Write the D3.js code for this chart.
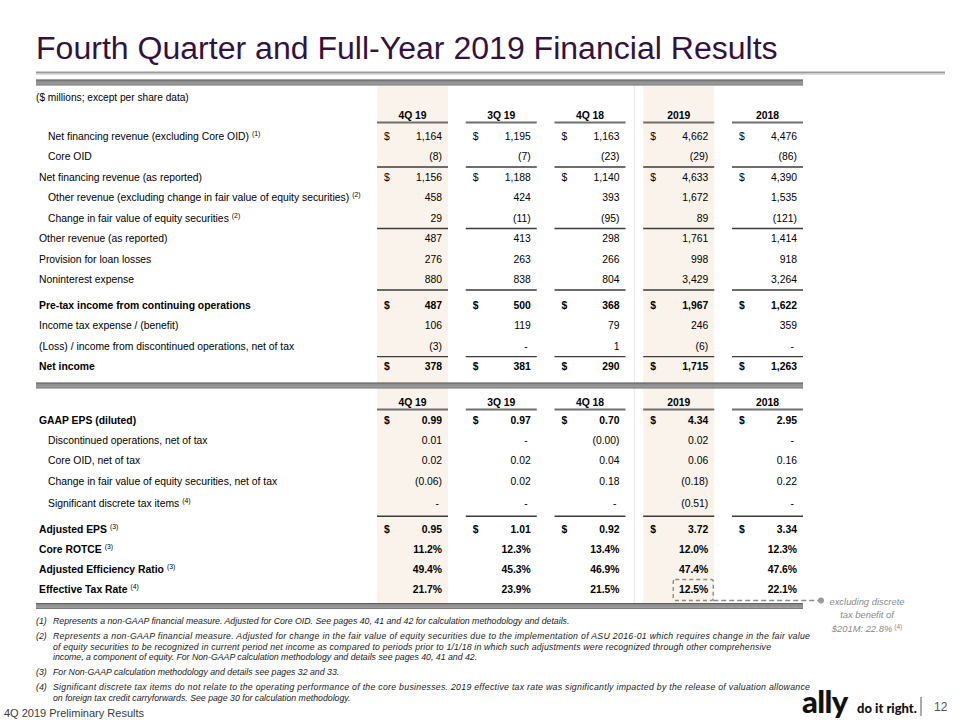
<!DOCTYPE html>
<html><head><meta charset="utf-8">
<script src="https://cdn.jsdelivr.net/npm/d3@7"></script>
<style>
html,body{margin:0;padding:0;background:#fff;}
svg{display:block;}
</style></head><body>
<svg id="chart" width="960" height="720"></svg>
<script>
// ---------------- DATA ----------------
const columns = ["4Q 19", "3Q 19", "4Q 18", "2019", "2018"];
const shadedColumns = ["4Q 19", "2019"];

const incomeLabels = [
  "Net financing revenue (excluding Core OID)",
  "Core OID",
  "Net financing revenue (as reported)",
  "Other revenue (excluding change in fair value of equity securities)",
  "Change in fair value of equity securities",
  "Other revenue (as reported)",
  "Provision for loan losses",
  "Noninterest expense",
  "Pre-tax income from continuing operations",
  "Income tax expense / (benefit)",
  "(Loss) / income from discontinued operations, net of tax",
  "Net income"
];
const incomeNotes = ["(1)", "", "", "(2)", "(2)", "", "", "", "", "", "", ""];
const income4Q19 = [1164, -8, 1156, 458, 29, 487, 276, 880, 487, 106, -3, 378];
const income3Q19 = [1195, -7, 1188, 424, -11, 413, 263, 838, 500, 119, null, 381];
const income4Q18 = [1163, -23, 1140, 393, -95, 298, 266, 804, 368, 79, 1, 290];
const incomeFY19 = [4662, -29, 4633, 1672, 89, 1761, 998, 3429, 1967, 246, -6, 1715];
const incomeFY18 = [4476, -86, 4390, 1535, -121, 1414, 918, 3264, 1622, 359, null, 1263];

const epsLabels = [
  "GAAP EPS (diluted)",
  "Discontinued operations, net of tax",
  "Core OID, net of tax",
  "Change in fair value of equity securities, net of tax",
  "Significant discrete tax items",
  "Adjusted EPS",
  "Core ROTCE",
  "Adjusted Efficiency Ratio",
  "Effective Tax Rate"
];
const epsNotes = ["", "", "", "", "(4)", "(3)", "(3)", "(3)", "(4)"];
const eps4Q19 = [0.99, 0.01, 0.02, -0.06, null, 0.95, 11.2, 49.4, 21.7];
const eps3Q19 = [0.97, null, 0.02, 0.02, null, 1.01, 12.3, 45.3, 23.9];
const eps4Q18 = [0.70, -0, 0.04, 0.18, null, 0.92, 13.4, 46.9, 21.5];
const epsFY19 = [4.34, 0.02, 0.06, -0.18, -0.51, 3.72, 12.0, 47.4, 12.5];
const epsFY18 = [2.95, null, 0.16, 0.22, null, 3.34, 12.3, 47.6, 22.1];

const titleText = "Fourth Quarter and Full-Year 2019 Financial Results";
const unitsText = "($ millions; except per share data)";
const calloutLines = ["excluding discrete", "tax benefit of", "$201M:  22.8%"];
const calloutNote = "(4)";
const footnotes = [
  ["(1)", ["Represents a non-GAAP financial measure. Adjusted for Core OID. See pages 40, 41 and 42 for calculation methodology and details."]],
  ["(2)", ["Represents a non-GAAP financial measure. Adjusted for change in the fair value of equity securities due to the implementation of ASU 2016-01 which requires change in the fair value",
           "of equity securities to be recognized in current period net income as compared to periods prior to 1/1/18 in which such adjustments were recognized through other comprehensive",
           "income, a component of equity. For Non-GAAP calculation methodology and details see pages 40, 41 and 42."]],
  ["(3)", ["For Non-GAAP calculation methodology and details see pages 32 and 33."]],
  ["(4)", ["Significant discrete tax items do not relate to the operating performance of the core businesses. 2019 effective tax rate was significantly impacted by the release of valuation allowance",
           "on foreign tax credit carryforwards. See page 30 for calculation methodology."]]
];
const footerText = "4Q 2019 Preliminary Results";
const pageNumber = "12";

// ---------------- ROW KINDS ----------------
const incomeBold = new Set(["Pre-tax income from continuing operations", "Net income"]);
const incomeIndent = new Set(["Net financing revenue (excluding Core OID)", "Core OID",
  "Other revenue (excluding change in fair value of equity securities)", "Change in fair value of equity securities"]);
const incomeDollar = new Set(["Net financing revenue (excluding Core OID)", "Net financing revenue (as reported)",
  "Pre-tax income from continuing operations", "Net income"]);
const incomeRuleAfter = new Set(["Core OID", "Change in fair value of equity securities", "Noninterest expense",
  "(Loss) / income from discontinued operations, net of tax"]);

const epsBold = new Set(["GAAP EPS (diluted)", "Adjusted EPS", "Core ROTCE", "Adjusted Efficiency Ratio", "Effective Tax Rate"]);
const epsIndent = new Set(["Discontinued operations, net of tax", "Core OID, net of tax",
  "Change in fair value of equity securities, net of tax", "Significant discrete tax items"]);
const epsDollar = new Set(["GAAP EPS (diluted)", "Adjusted EPS"]);
const epsPercent = new Set(["Core ROTCE", "Adjusted Efficiency Ratio", "Effective Tax Rate"]);
const epsRuleAfter = new Set(["Significant discrete tax items"]);

// ---------------- SETUP ----------------
const FONT = '"Liberation Sans", Arial, Helvetica, sans-serif';
const svg = d3.select("#chart").attr("font-family", FONT);

function measure(text, size, weight, style, family) {
  const t = svg.append("text").attr("font-family", family || FONT).attr("font-size", size)
    .attr("font-weight", weight || "normal").attr("font-style", style || "normal").text(text);
  const w = t.node().getComputedTextLength();
  t.remove();
  return w;
}
const labelSize = 10 * 201 / measure(incomeLabels[0], 10);
const titleSize = 10 * 742 / measure(titleText, 10);
const footSize = 0.933 * 10 * 757 / measure(footnotes[1][1][0], 10, "normal", "italic");
// justified (stretched) footnote lines: [note index, line index, target width]
const justified = [[1, 0, 757], [1, 1, 718], [3, 0, 757]];

const x = d3.scaleBand().domain(columns).range([377, 803]).paddingInner(0.2);
const leftX = 36;
const tableRight = x.range()[1];

const yInc = d3.scaleLinear().domain([0, 1]).range([136, 156.5]);
const incSlots = incomeLabels.map((d, i) => i + (i >= 8 ? 0.25 : 0));
const yEps = d3.scaleLinear().domain([0, 1]).range([420, 440.3]);
const epsExtra = [0, 0, 0, 0, 0.1, 0.4, 0.35, 0.35, 0.35];
const epsSlots = epsLabels.map((d, i) => i + epsExtra[i]);

const fmtInt = d3.format(","), fmt2 = d3.format(".2f"), fmt1 = d3.format(".1f");
function acct(v, f) {
  if (v === null) return "-";
  const s = f(Math.abs(v));
  return (v < 0 || Object.is(v, -0)) ? "(" + s + ")" : s;
}

// defs: gradient for thick bars
const defs = svg.append("defs");
const g1 = defs.append("linearGradient").attr("id", "barGrad").attr("x1", 0).attr("x2", 0).attr("y1", 0).attr("y2", 1);
g1.append("stop").attr("offset", "0%").attr("stop-color", "#4a4a4a");
g1.append("stop").attr("offset", "25%").attr("stop-color", "#8a8a8a");
g1.append("stop").attr("offset", "75%").attr("stop-color", "#9c9c9c");
g1.append("stop").attr("offset", "100%").attr("stop-color", "#6a6a6a");

// ---------------- TITLE ----------------
svg.append("text").attr("x", leftX).attr("y", 59).attr("font-size", titleSize)
  .attr("fill", "#34123f").text(titleText);
svg.append("line").attr("x1", leftX).attr("x2", 945).attr("y1", 72.5).attr("y2", 72.5)
  .attr("stroke", "#9a9a9a").attr("stroke-width", 2);
svg.append("line").attr("x1", leftX).attr("x2", 945).attr("y1", 74.5).attr("y2", 74.5)
  .attr("stroke", "#dadada").attr("stroke-width", 1.2);

// ---------------- SHADING / DIVIDER ----------------
svg.append("g").selectAll("rect").data(shadedColumns).join("rect")
  .attr("x", d => x(d)).attr("width", x.bandwidth())
  .attr("y", 86).attr("height", 603 - 86).attr("fill", "#faf3eb");
const divX = (x("4Q 18") + x.bandwidth() + x("2019")) / 2;
svg.append("line").attr("x1", divX).attr("x2", divX).attr("y1", 86).attr("y2", 603)
  .attr("stroke", "#e8e8e8").attr("stroke-width", 1);

// thick bars
[79.5, 382.5, 603].forEach(yy => {
  svg.append("rect").attr("x", leftX).attr("width", tableRight - leftX).attr("y", yy).attr("height", 6)
    .attr("fill", "url(#barGrad)");
});

// units label
svg.append("text").attr("x", leftX).attr("y", 97).attr("dy", "0.35em").attr("font-size", labelSize * 0.98)
  .attr("fill", "#000").text(unitsText);

// ---------------- HEADERS ----------------
function header(yText, yRule) {
  const g = svg.append("g");
  g.selectAll("text").data(columns).join("text")
    .attr("x", d => x(d) + x.bandwidth() / 2).attr("y", yText).attr("dy", "0.35em")
    .attr("text-anchor", "middle").attr("font-weight", "bold").attr("font-size", labelSize)
    .attr("fill", "#000").text(d => d);
  g.selectAll("line").data(columns).join("line")
    .attr("x1", d => x(d)).attr("x2", d => x(d) + x.bandwidth())
    .attr("y1", yRule).attr("y2", yRule).attr("stroke", "#6e6e6e").attr("stroke-width", 2.2);
}
header(115, 122.5);
header(402, 409.5);

// ---------------- SECTIONS ----------------
function section(labels, notes, series, yScale, slots, bold, indent, dollar, ruleAfter, fmtFor, ruleOffset) {
  const g = svg.append("g");
  labels.forEach((lab, i) => {
    const yy = yScale(slots[i]);
    const isBold = bold.has(lab);
    const t = g.append("text").attr("x", indent.has(lab) ? 48 : 39).attr("y", yy).attr("dy", "0.35em")
      .attr("font-size", labelSize).attr("font-weight", isBold ? "bold" : "normal").attr("fill", "#000");
    t.append("tspan").text(lab);
    if (notes[i]) {
      t.append("tspan").attr("font-size", labelSize * 0.66).attr("font-weight", "normal")
        .attr("dx", 3).attr("dy", -4).text(notes[i]);
    }
    columns.forEach((c, ci) => {
      const v = series[ci][i];
      const right = x(c) + x.bandwidth() - 6;
      if (dollar.has(lab)) {
        g.append("text").attr("x", x(c) + 7).attr("y", yy).attr("dy", "0.35em")
          .attr("font-size", labelSize).attr("font-weight", isBold ? "bold" : "normal")
          .attr("fill", "#000").text("$");
      }
      g.append("text").attr("x", v === null ? right - 3 : right).attr("y", yy).attr("dy", "0.35em")
        .attr("text-anchor", "end").attr("font-size", labelSize)
        .attr("font-weight", isBold ? "bold" : "normal").attr("fill", "#000")
        .text(fmtFor(lab, v));
    });
    if (ruleAfter.has(lab)) {
      const ry = yy + ruleOffset;
      g.selectAll(null).data(columns).join("line")
        .attr("x1", d => x(d)).attr("x2", d => x(d) + x.bandwidth())
        .attr("y1", ry).attr("y2", ry).attr("stroke", "#3c3c3c").attr("stroke-width", 1.3);
    }
  });
}
section(incomeLabels, incomeNotes, [income4Q19, income3Q19, income4Q18, incomeFY19, incomeFY18],
  yInc, incSlots, incomeBold, incomeIndent, incomeDollar, incomeRuleAfter,
  (lab, v) => acct(v, fmtInt), 10.5);
section(epsLabels, epsNotes, [eps4Q19, eps3Q19, eps4Q18, epsFY19, epsFY18],
  yEps, epsSlots, epsBold, epsIndent, epsDollar, epsRuleAfter,
  (lab, v) => epsPercent.has(lab) ? fmt1(v) + "%" : acct(v, fmt2), 13);

// ---------------- CALLOUT ----------------
const etrRow = epsLabels.indexOf("Effective Tax Rate");
const etrY = yEps(epsSlots[etrRow]);
const boxX0 = x("2019") + 30, boxX1 = x("2019") + x.bandwidth() - 1;
svg.append("rect").attr("x", boxX0).attr("y", etrY - 10).attr("width", boxX1 - boxX0).attr("height", 21)
  .attr("rx", 2).attr("fill", "none").attr("stroke", "#8c8c8c").attr("stroke-width", 1.4)
  .attr("stroke-dasharray", "4,3");
svg.append("line").attr("x1", boxX1).attr("x2", 819).attr("y1", etrY + 11).attr("y2", etrY + 11)
  .attr("stroke", "#8c8c8c").attr("stroke-width", 1.4).attr("stroke-dasharray", "5,3");
svg.append("circle").attr("cx", 821).attr("cy", etrY + 11).attr("r", 3).attr("fill", "#9a9a9a");
const co = svg.append("g").attr("font-style", "italic").attr("fill", "#8a8a8a").attr("font-size", 9.4);
calloutLines.forEach((line, i) => {
  const t = co.append("text").attr("x", 867).attr("y", etrY + 12 + i * 13.5).attr("dy", "0.35em")
    .attr("text-anchor", "middle");
  t.append("tspan").text(line);
  if (i === calloutLines.length - 1) {
    t.append("tspan").attr("font-size", 6.5).attr("font-style", "normal").attr("dx", 2).attr("dy", -3).text(calloutNote);
  }
});

// ---------------- FOOTNOTES ----------------
const fg = svg.append("g").attr("font-style", "italic").attr("font-size", footSize).attr("fill", "#1a1a1a");
let fy = 621;
footnotes.forEach(([num, lines], k) => {
  fg.append("text").attr("x", leftX).attr("y", fy).attr("dy", "0.35em").text(num);
  lines.forEach((ln, j) => {
    const t = fg.append("text").attr("x", 53).attr("y", fy + j * 10.5).attr("dy", "0.35em").text(ln);
    const jt = justified.find(d => d[0] === k && d[1] === j);
    if (jt) t.attr("textLength", jt[2]).attr("lengthAdjust", "spacing");
  });
  fy += (lines.length - 1) * 10.5 + 15;
});

// ---------------- FOOTER ----------------
svg.append("text").attr("x", 4).attr("y", 713).attr("dy", "0.35em").attr("font-size", 11)
  .attr("fill", "#3a3a3a").text(footerText);
svg.append("text").attr("x", 802).attr("y", 713).attr("font-family", "Lato, 'Open Sans', sans-serif")
  .attr("font-weight", 900).attr("font-size", 31).attr("letter-spacing", -0.6).attr("fill", "#111").text("ally");
svg.append("text").attr("x", 857).attr("y", 713).attr("font-family", "Lato, 'Open Sans', sans-serif")
  .attr("font-weight", 900).attr("font-size", 13).attr("fill", "#111").text("do it right.");
svg.append("line").attr("x1", 921).attr("x2", 921).attr("y1", 697).attr("y2", 716)
  .attr("stroke", "#555").attr("stroke-width", 1);
svg.append("text").attr("x", 934).attr("y", 707).attr("dy", "0.35em").attr("font-size", 12)
  .attr("fill", "#555").text(pageNumber);
</script>
</body></html>
